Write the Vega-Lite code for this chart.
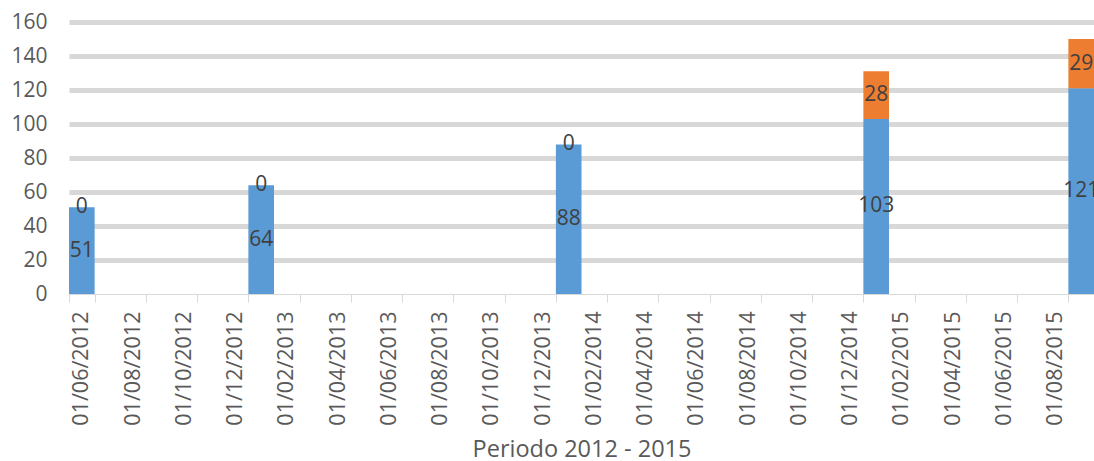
{
  "$schema": "https://vega.github.io/schema/vega-lite/v6.json",
  "autosize": {"type": "none"},
  "width": 1025,
  "height": 272,
  "padding": {"left": 69, "top": 22, "right": 0, "bottom": 167},
  "background": "white",
  "config": {"view": {"stroke": null}, "font": "Open Sans"},
  "data": {"values": [
    {"fecha": "01/06/2012", "serie": "A", "orden": 1, "valor": 51},
    {"fecha": "01/06/2012", "serie": "B", "orden": 2, "valor": 0},
    {"fecha": "01/01/2013", "serie": "A", "orden": 1, "valor": 64},
    {"fecha": "01/01/2013", "serie": "B", "orden": 2, "valor": 0},
    {"fecha": "01/01/2014", "serie": "A", "orden": 1, "valor": 88},
    {"fecha": "01/01/2014", "serie": "B", "orden": 2, "valor": 0},
    {"fecha": "01/01/2015", "serie": "A", "orden": 1, "valor": 103},
    {"fecha": "01/01/2015", "serie": "B", "orden": 2, "valor": 28},
    {"fecha": "01/09/2015", "serie": "A", "orden": 1, "valor": 121},
    {"fecha": "01/09/2015", "serie": "B", "orden": 2, "valor": 29}
  ]},
  "transform": [
    {"stack": "valor", "groupby": ["fecha"], "sort": [{"field": "orden"}], "as": ["v0", "v1"]},
    {"calculate": "(datum.v0 + datum.v1) / 2", "as": "vm"}
  ],
  "encoding": {
    "x": {
      "field": "fecha",
      "type": "ordinal",
      "sort": null,
      "scale": {
        "domain": ["01/06/2012","01/07/2012","01/08/2012","01/09/2012","01/10/2012","01/11/2012","01/12/2012",
                   "01/01/2013","01/02/2013","01/03/2013","01/04/2013","01/05/2013","01/06/2013","01/07/2013","01/08/2013","01/09/2013","01/10/2013","01/11/2013","01/12/2013",
                   "01/01/2014","01/02/2014","01/03/2014","01/04/2014","01/05/2014","01/06/2014","01/07/2014","01/08/2014","01/09/2014","01/10/2014","01/11/2014","01/12/2014",
                   "01/01/2015","01/02/2015","01/03/2015","01/04/2015","01/05/2015","01/06/2015","01/07/2015","01/08/2015","01/09/2015"],
        "paddingInner": 0,
        "paddingOuter": 0
      },
      "axis": {
        "values": ["01/06/2012","01/08/2012","01/10/2012","01/12/2012","01/02/2013","01/04/2013","01/06/2013","01/08/2013","01/10/2013","01/12/2013",
                   "01/02/2014","01/04/2014","01/06/2014","01/08/2014","01/10/2014","01/12/2014","01/02/2015","01/04/2015","01/06/2015","01/08/2015"],
        "tickBand": "extent",
        "grid": false,
        "domainColor": "#d9d9d9",
        "tickColor": "#d9d9d9",
        "tickSize": 8,
        "labelAngle": 270,
        "labelAlign": "right",
        "labelBaseline": "middle",
        "labelFontSize": 21.5,
        "labelColor": "#595959",
        "labelPadding": 9,
        "labelOverlap": false,
        "title": "Periodo 2012 - 2015",
        "titleFontSize": 23.5,
        "titleFontWeight": "normal",
        "titleColor": "#595959",
        "titlePadding": 12
      }
    }
  },
  "resolve": {"axis": {"y": "independent"}},
  "layer": [
    {
      "mark": {"type": "bar"},
      "encoding": {
        "y": {
          "field": "v0",
          "type": "quantitative",
          "scale": {"domain": [0, 160]},
          "axis": {
            "orient": "left",
            "title": null,
            "values": [0, 20, 40, 60, 80, 100, 120, 140, 160],
            "domain": false,
            "ticks": false,
            "labelFontSize": 21,
            "labelColor": "#595959",
            "labelPadding": 22,
            "labelOverlap": false,
            "labelFlush": false,
            "gridWidth": 5,
            "gridColor": {"condition": {"test": "datum.value == 0", "value": "transparent"}, "value": "#d8d8d8"}
          }
        },
        "y2": {"field": "v1"},
        "color": {
          "field": "serie",
          "type": "nominal",
          "scale": {"domain": ["A", "B"], "range": ["#5B9BD5", "#ED7D31"]},
          "legend": null
        }
      }
    },
    {
      "mark": {"type": "text", "fontSize": 21, "color": "#404040"},
      "encoding": {
        "y": {
          "field": "vm",
          "type": "quantitative",
          "axis": {
            "orient": "left",
            "title": null,
            "values": [20, 40, 60, 80, 100, 120, 140, 160],
            "domain": false,
            "ticks": false,
            "labels": false,
            "gridWidth": 7,
            "gridColor": "#dde8f5"
          }
        },
        "text": {"field": "valor", "type": "quantitative"}
      }
    }
  ]
}
